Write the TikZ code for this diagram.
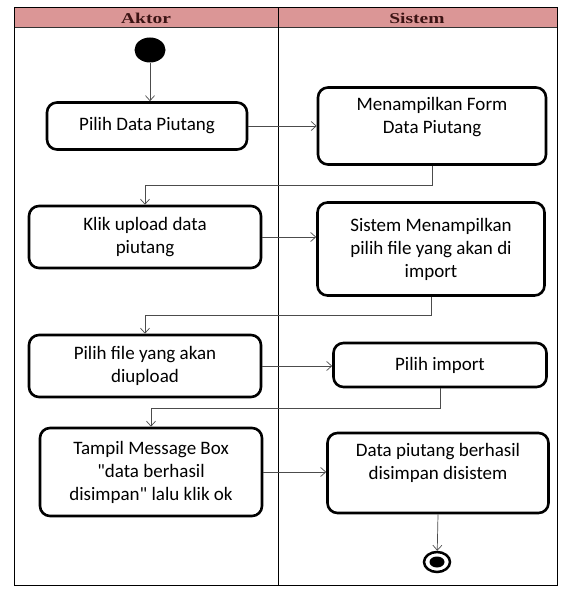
\documentclass[tikz,border=0pt]{standalone}
\usepackage{fontspec}
\setmainfont{Carlito}[Ligatures=TeXOff]
\newfontfamily\headfont{Liberation Serif}
\usetikzlibrary{arrows.meta,shapes.geometric}
\definecolor{lanehead}{RGB}{219,150,150}
\definecolor{headtext}{RGB}{60,20,20}

\begin{document}
\begin{tikzpicture}[x=1pt,y=-1pt,
  act/.style={draw,line width=2.6pt,rounded corners=10pt,align=center,inner sep=2pt,
    font=\fontsize{19}{23}\selectfont},
  acttext/.style={align=center,font=\fontsize{19}{23}\selectfont,anchor=north},
  flow/.style={draw=black!70,line width=0.7pt,-{Straight Barb[length=5pt,width=9pt]}},
  lanetitle/.style={font=\headfont\bfseries\fontsize{15}{18}\selectfont,text=headtext}]
\useasboundingbox (0,0) rectangle (570,593);
% swimlanes
\filldraw[fill=lanehead,draw=black!80,line width=1pt] (14,8) rectangle (557,28);
\draw[line width=1pt] (14,8) rectangle (557,585)
      (278,8) -- (278,585);
\node[lanetitle] (aktor) at (146,18) {\scalebox{1.3}[1]{Aktor}};
\node[lanetitle] (sistem) at (417,18) {\scalebox{1.3}[1]{Sistem}};
% start / end
\node[ellipse,fill=black,minimum width=31,minimum height=25,inner sep=0] (start) at (150,50) {};
\node[ellipse,draw,line width=2.5pt,minimum width=26,minimum height=20,inner sep=0] (end) at (437,562) {};
\node[ellipse,fill=black,minimum width=15,minimum height=11,inner sep=0] at (end) {};
% aktor
\node[act,minimum width=200,minimum height=47] (a1) at (147,126) {Pilih Data Piutang};
\node[act,minimum width=232,minimum height=62] (a2) at (145,237) {Klik upload data\\piutang};
\node[act,minimum width=232,minimum height=62] (a3) at (145,366) {Pilih file yang akan\\diupload};
\node[act,minimum width=222,minimum height=88] (a4) at (151,472) {Tampil Message Box\\"data berhasil\\disimpan" lalu klik ok};
% sistem
\node[act,minimum width=228,minimum height=77] (s1) at (432,126) {};
\node[acttext] at ([yshift=-8]s1.north) {Menampilkan Form\\Data Piutang};
\node[act,minimum width=227,minimum height=93] (s2) at (431,249) {Sistem Menampilkan\\pilih file yang akan di\\import};
\node[act,minimum width=213,minimum height=44] (s3) at (440,365) {Pilih import};
\node[act,minimum width=221,minimum height=80] (s4) at (438,473) {};
\node[acttext] at ([yshift=-8]s4.north) {Data piutang berhasil\\disimpan disistem};
% alur
\draw[flow] (start) -- (start |- a1.north);
\draw[flow] (a1.east) -- (a1.east -| s1.west);
\draw[flow] (s1.south) -- ++(0,20) -| (a2.north);
\draw[flow] (a2.east) -- (a2.east -| s2.west);
\draw[flow] (s2.south) -- ++(0,19) -| (a3.north);
\draw[flow] (a3.east) -- (a3.east -| s3.west);
\draw[flow] (s3.south) -- ++(0,20) -| (a4.north);
\draw[flow] (a4.east) -- (a4.east -| s4.west);
\draw[flow] (s4.south) -- (end);
\end{tikzpicture}
\end{document}
